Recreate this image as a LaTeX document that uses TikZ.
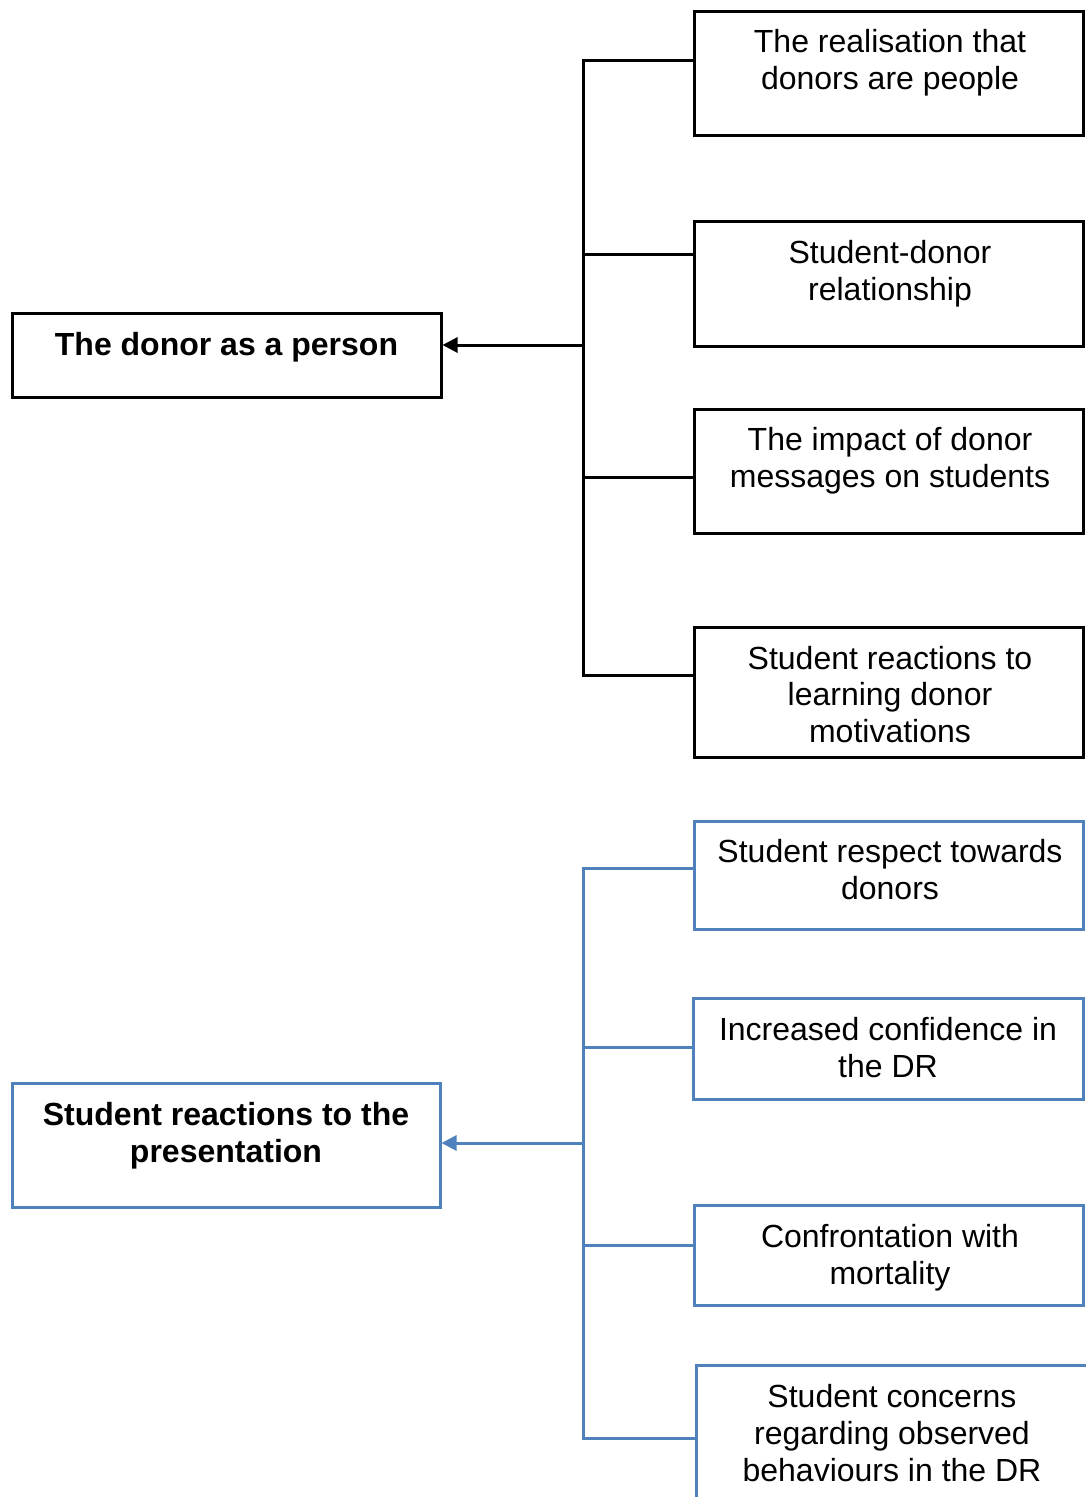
\documentclass[tikz,border=0pt]{standalone}
\usepackage{fontspec}
\setmainfont{Liberation Sans}
\usetikzlibrary{arrows.meta}
\definecolor{accent}{RGB}{79,129,189}
\begin{document}
\begin{tikzpicture}[x=1pt,y=-1pt,
  frame/.style={draw, line width=3pt, inner sep=0pt},
  label/.style={align=center, inner sep=0pt, font=\fontsize{32}{36.8}\selectfont},
  head/.style={label, font=\fontsize{32}{36.8}\selectfont\bfseries},
  link/.style={line width=3pt, line cap=rect},
  tip/.style={-{Triangle[length=15pt,width=15pt]}, line width=3pt}]
\useasboundingbox (0,0) rectangle (1085,1497);

% ---- upper group: the donor as a person ----
\node[frame, minimum width=389pt, minimum height=124pt] (a1) at (888.5,73) {};
\node[frame, minimum width=389pt, minimum height=125pt] (a2) at (888.5,283.5) {};
\node[frame, minimum width=389pt, minimum height=124pt] (a3) at (888.5,471) {};
\node[frame, minimum width=389pt, minimum height=130pt] (a4) at (888.5,692) {};
\node[frame, minimum width=429pt, minimum height=84pt] (ma) at (226.5,355) {};

\node[label] (a1t) at (890,63) {The realisation that\\donors are people};
\node[label] (a2t) at (890,273.5) {Student-donor\\relationship};
\node[label] (a3t) at (890,461) {The impact of donor\\messages on students};
\node[label] (a4t) at (890,694.5) {Student reactions to\\learning donor\\motivations};
\node[head] (mat) at (226.5,347) {The donor as a person};

\coordinate (ja1) at (583,60);
\coordinate (ja2) at (583,254);
\coordinate (ja3) at (583,477);
\coordinate (ja4) at (583,675);
\coordinate (ha) at (583,345);
\draw[link] (ja1) -- (ja4);
\draw[link] (ja1) -- (ja1 -| a1.west);
\draw[link] (ja2) -- (ja2 -| a2.west);
\draw[link] (ja3) -- (ja3 -| a3.west);
\draw[link] (ja4) -- (ja4 -| a4.west);
\draw[tip] (ha) -- (ha -| ma.east);

% ---- lower group: student reactions to the presentation ----
\begin{scope}[accent]
\node[frame, minimum width=389pt, minimum height=108pt] (b1) at (888.5,875) {};
\node[frame, minimum width=390pt, minimum height=101pt] (b2) at (888,1048.5) {};
\node[frame, minimum width=389pt, minimum height=100pt] (b3) at (888.5,1255) {};
\node[frame, minimum width=399pt, minimum height=195pt] (b4) at (895.5,1462.5) {};
\node[frame, minimum width=428pt, minimum height=124pt] (mb) at (226,1145) {};

\node[label, text=black] (b1t) at (890,869.5) {Student respect towards\\donors};
\node[label, text=black] (b2t) at (888,1047.5) {Increased confidence in\\the DR};
\node[label, text=black] (b3t) at (890,1257.5) {Confrontation with\\mortality};
\node[label, text=black] (b4t) at (892,1433) {Student concerns\\regarding observed\\behaviours in the DR};
\node[head, text=black] (mbt) at (226,1135.5) {Student reactions to the\\presentation};

\coordinate (jb1) at (583,868);
\coordinate (jb2) at (583,1047);
\coordinate (jb3) at (583,1245);
\coordinate (jb4) at (583,1438);
\coordinate (hb) at (583,1143);
\draw[link] (jb1) -- (jb4);
\draw[link] (jb1) -- (jb1 -| b1.west);
\draw[link] (jb2) -- (jb2 -| b2.west);
\draw[link] (jb3) -- (jb3 -| b3.west);
\draw[link] (jb4) -- (jb4 -| b4.west);
\draw[tip] (hb) -- (hb -| mb.east);
\end{scope}
\end{tikzpicture}
\end{document}
